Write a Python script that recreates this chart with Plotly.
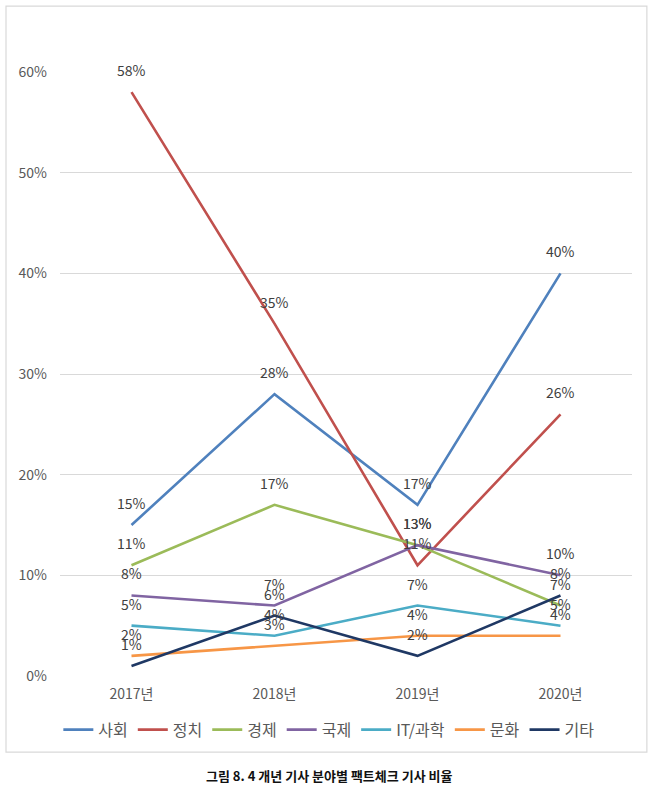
import plotly.graph_objects as go

years = ["2017년", "2018년", "2019년", "2020년"]
series_names = ["사회", "정치", "경제", "국제", "IT/과학", "문화", "기타"]
society = [15, 28, 17, 40]
politics = [58, 35, 11, 26]
economy = [11, 17, 13, 7]
international = [8, 7, 13, 10]
it_science = [5, 4, 7, 5]
culture = [2, 3, 4, 4]
others = [1, 6, 2, 8]
y_ticks = [0, 10, 20, 30, 40, 50, 60]

values = [society, politics, economy, international, it_science, culture, others]
colors = ["#4F81BD", "#C0504D", "#9BBB59", "#8064A2", "#4BACC6", "#F79646", "#1F3864"]

FONT = "Noto Sans CJK KR"
fig = go.Figure()
annotations = []
for name, vals, col in zip(series_names, values, colors):
    fig.add_trace(go.Scatter(
        x=years, y=vals, name=name, mode="lines",
        line=dict(color=col, width=2.6),
        hoverinfo="skip",
    ))
    for xv, yv in zip(years, vals):
        annotations.append(dict(
            x=xv, y=yv, xref="x", yref="y", text=f"{yv}%",
            showarrow=False, yshift=22, yanchor="middle",
            font=dict(family=FONT, size=14, color="#404040"),
        ))

annotations.append(dict(
    x=0.472, y=-0.164, xref="paper", yref="paper",
    text="<b>그림 8. 4 개년 기사 분야별 팩트체크 기사 비율</b>",
    showarrow=False, xanchor="center", yanchor="middle",
    font=dict(family=FONT, size=13, color="#111111"),
))

fig.update_layout(
    width=658, height=790,
    margin=dict(l=60, r=26, t=72, b=114),
    paper_bgcolor="white", plot_bgcolor="white",
    font=dict(family=FONT, size=14, color="#595959"),
    showlegend=True,
    legend=dict(orientation="h", x=0.47, xanchor="center", y=-0.089, yanchor="middle",
                font=dict(family=FONT, size=16, color="#595959"),
                itemwidth=30, tracegroupgap=0),
    xaxis=dict(type="category", range=[-0.5, 3.5], showgrid=False, zeroline=False,
               showline=False, ticks="", ticklabelstandoff=8,
               tickfont=dict(family=FONT, size=14, color="#595959")),
    yaxis=dict(range=[0, 60], tickvals=y_ticks, ticktext=[f"{v}%" for v in y_ticks],
               showgrid=True, gridcolor="#D9D9D9", gridwidth=1, zeroline=False,
               showline=False, ticks="", ticklabelstandoff=12,
               tickfont=dict(family=FONT, size=14, color="#595959")),
    annotations=annotations,
    shapes=[dict(type="rect", xref="paper", yref="paper",
                 x0=-0.0944, x1=1.026, y0=-0.126, y1=1.109,
                 line=dict(color="#D9D9D9", width=1.2), fillcolor="rgba(0,0,0,0)",
                 layer="below")],
)
fig.update_traces(cliponaxis=False)

fig.write_html("out.html")
